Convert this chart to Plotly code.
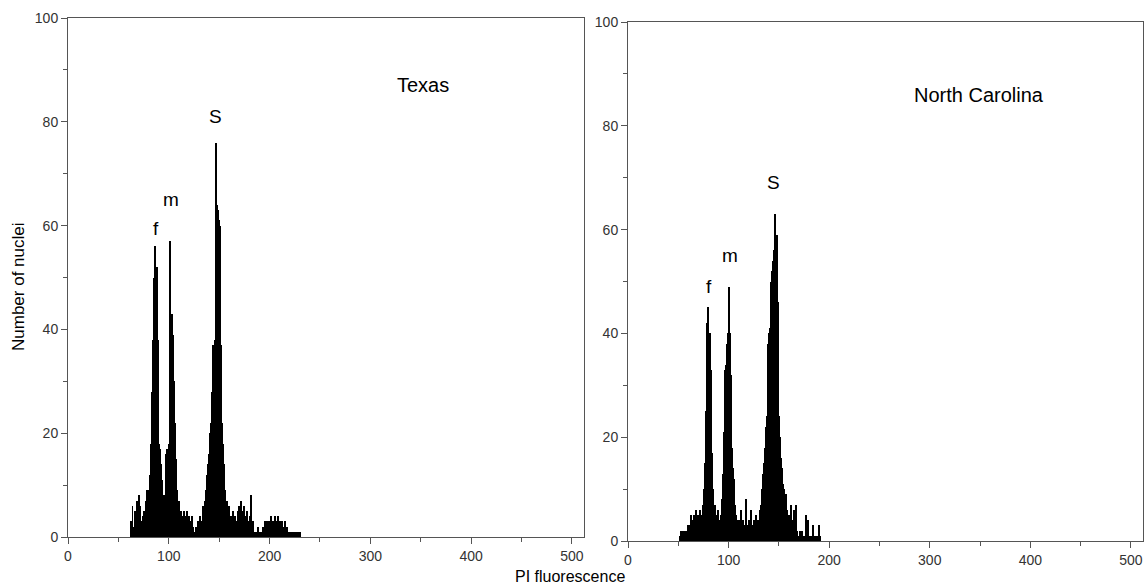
import plotly.graph_objects as go

# ---- data: counts per fluorescence channel (width 1) ----
texas_start = 63
texas_counts = [
    3, 6, 2, 5, 4, 7, 5, 8, 6, 3,
    2, 4, 5, 3, 7, 9, 6, 9, 12, 18,
    28, 38, 50, 56, 49, 52, 38, 18, 17, 14,
    11, 8, 5, 8, 16, 17, 17, 18, 57, 36,
    43, 39, 30, 22, 15, 9, 6, 7, 2, 5,
    4, 1, 5, 4, 3, 5, 1, 4, 3, 1,
    4, 2, 1, 1, 2, 1, 3, 2, 4, 3,
    3, 6, 4, 7, 9, 12, 14, 16, 20, 22,
    28, 37, 37, 38, 76, 64, 63, 61, 60, 37,
    22, 18, 14, 9, 6, 7, 3, 6, 2, 4,
    3, 5, 2, 4, 1, 3, 5, 6, 4, 7,
    5, 3, 6, 4, 2, 5, 3, 1, 4, 8,
    2, 3, 1, 1, 1, 1, 2, 1, 1, 1,
    2, 1, 3, 1, 3, 2, 3, 1, 4, 2,
    3, 1, 4, 3, 2, 4, 1, 3, 2, 3,
    1, 2, 3, 1, 2, 1, 1, 1, 1, 1,
    1, 1, 1, 1, 1, 1, 1, 1,
]

nc_start = 52
nc_counts = [
    1, 2, 1, 2, 2, 1, 2, 1, 3, 2,
    3, 5, 4, 3, 5, 2, 6, 4, 5, 3,
    6, 4, 5, 7, 10, 15, 25, 42, 45, 38,
    40, 33, 17, 10, 7, 5, 4, 6, 4, 3,
    5, 8, 13, 21, 33, 34, 38, 40, 49, 40,
    32, 18, 14, 12, 7, 5, 4, 2, 4, 3,
    6, 2, 4, 3, 2, 8, 3, 2, 4, 2,
    6, 3, 1, 4, 3, 5, 4, 3, 4, 6,
    7, 10, 13, 15, 18, 22, 24, 38, 40, 41,
    50, 52, 54, 56, 63, 58, 59, 46, 24, 20,
    16, 14, 11, 10, 8, 9, 6, 5, 3, 5,
    7, 4, 2, 6, 5, 7, 2, 1, 1, 2,
    1, 2, 1, 1, 1, 5, 2, 4, 1, 1,
    1, 1, 3, 1, 1, 1, 1, 1, 3, 1,
]

x_ticks = [0, 100, 200, 300, 400, 500]
y_ticks = [0, 20, 40, 60, 80, 100]

panel_titles = ["Texas", "North Carolina"]
title_pos = [(352, 87), (349, 86)]
peak_labels = ["f", "m", "S"]
texas_label_pos = [(87, 59.5), (102, 65), (146.5, 81)]
nc_label_pos = [(80.5, 49), (101.5, 55), (144.5, 69)]

W, H = 1144, 585
FONT = "Liberation Sans, Arial, sans-serif"
AX = "#555555"

texas_x = list(range(texas_start, texas_start + len(texas_counts)))
nc_x = list(range(nc_start, nc_start + len(nc_counts)))

fig = go.Figure()
fig.add_trace(go.Bar(x=texas_x, y=texas_counts, width=1, marker=dict(color="black", line=dict(width=0)),
                     xaxis="x", yaxis="y", showlegend=False))
fig.add_trace(go.Bar(x=nc_x, y=nc_counts, width=1, marker=dict(color="black", line=dict(width=0)),
                     xaxis="x2", yaxis="y2", showlegend=False))

def xax(domain, anchor):
    return dict(domain=domain, anchor=anchor, range=[0, 512], tickvals=x_ticks,
                ticks="outside", ticklen=6, tickcolor=AX, tickwidth=1,
                showline=True, linecolor=AX, linewidth=1, mirror=True,
                showgrid=False, zeroline=False,
                minor=dict(ticks="outside", ticklen=4, tickcolor=AX, tickvals=[50, 150, 250, 350, 450]),
                tickfont=dict(family=FONT, size=14, color="#333"), automargin=False)

def yax(domain, anchor):
    return dict(domain=domain, anchor=anchor, range=[0, 100], tickvals=y_ticks,
                ticks="outside", ticklen=6, tickcolor=AX, tickwidth=1,
                showline=True, linecolor=AX, linewidth=1, mirror=True,
                showgrid=False, zeroline=False,
                minor=dict(ticks="outside", ticklen=4, tickcolor=AX, tickvals=[10, 30, 50, 70, 90]),
                tickfont=dict(family=FONT, size=14, color="#333"), automargin=False)

annotations = []
for i, (t, (ax_, ay_)) in enumerate(zip(panel_titles, title_pos)):
    annotations.append(dict(text=t, x=ax_, y=ay_, xref="x" if i == 0 else "x2", yref="y" if i == 0 else "y2",
                            showarrow=False, font=dict(family=FONT, size=20, color="black")))
for lab, (px, py) in zip(peak_labels, texas_label_pos):
    annotations.append(dict(text=lab, x=px, y=py, xref="x", yref="y", showarrow=False,
                            font=dict(family=FONT, size=19, color="black")))
for lab, (px, py) in zip(peak_labels, nc_label_pos):
    annotations.append(dict(text=lab, x=px, y=py, xref="x2", yref="y2", showarrow=False,
                            font=dict(family=FONT, size=19, color="black")))
annotations.append(dict(text="Number of nuclei", x=18 / W, y=1 - 287 / H, xref="paper", yref="paper",
                        xanchor="center", yanchor="middle",
                        textangle=-90, showarrow=False, font=dict(family=FONT, size=17, color="black")))
annotations.append(dict(text="PI fluorescence", x=570 / W, y=1 - 576 / H, xref="paper", yref="paper",
                        xanchor="center", yanchor="middle",
                        showarrow=False, font=dict(family=FONT, size=16, color="black")))

fig.update_layout(
    width=W, height=H,
    margin=dict(l=0, r=0, t=0, b=0),
    paper_bgcolor="white", plot_bgcolor="white",
    bargap=0,
    xaxis=xax([68 / W, 584 / W], "y"),
    yaxis=yax([1 - 537 / H, 1 - 18 / H], "x"),
    xaxis2=xax([628 / W, 1143 / W], "y2"),
    yaxis2=yax([1 - 541 / H, 1 - 22 / H], "x2"),
    annotations=annotations,
)

fig.write_html("out.html")
